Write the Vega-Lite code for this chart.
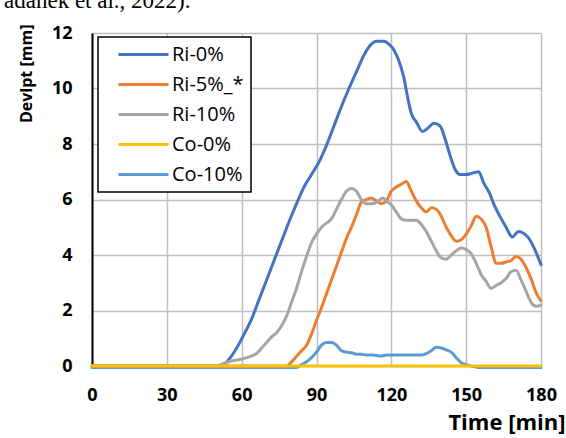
{
  "$schema": "https://vega.github.io/schema/vega-lite/v6.json",
  "width": 449,
  "height": 333,
  "autosize": "none",
  "padding": {"left": 92, "top": 33, "right": 25, "bottom": 72},
  "background": "white",
  "title": {"text": "adanek et al., 2022).", "font": "Liberation Serif", "fontSize": 23, "fontWeight": "normal", "color": "black", "anchor": "start", "frame": "bounds", "baseline": "alphabetic", "offset": 0, "dx": -14, "dy": 7},
  "config": {
    "view": {"stroke": null},
    "font": "Open Sans"
  },
  "data": {"values": [
    {"s":"Co-10%","t":0,"v":-0.05},{"s":"Co-10%","t":82,"v":-0.05},{"s":"Co-10%","t":84,"v":0.05},{"s":"Co-10%","t":86,"v":0.15},{"s":"Co-10%","t":88,"v":0.3},{"s":"Co-10%","t":90,"v":0.5},{"s":"Co-10%","t":92,"v":0.75},{"s":"Co-10%","t":94,"v":0.85},{"s":"Co-10%","t":96,"v":0.85},{"s":"Co-10%","t":98,"v":0.75},{"s":"Co-10%","t":100,"v":0.55},{"s":"Co-10%","t":102,"v":0.5},{"s":"Co-10%","t":104,"v":0.48},{"s":"Co-10%","t":106,"v":0.42},{"s":"Co-10%","t":108,"v":0.42},{"s":"Co-10%","t":110,"v":0.4},{"s":"Co-10%","t":112,"v":0.4},{"s":"Co-10%","t":114,"v":0.38},{"s":"Co-10%","t":116,"v":0.36},{"s":"Co-10%","t":118,"v":0.4},{"s":"Co-10%","t":124,"v":0.4},{"s":"Co-10%","t":132,"v":0.4},{"s":"Co-10%","t":134,"v":0.45},{"s":"Co-10%","t":136,"v":0.55},{"s":"Co-10%","t":138,"v":0.68},{"s":"Co-10%","t":140,"v":0.65},{"s":"Co-10%","t":142,"v":0.58},{"s":"Co-10%","t":144,"v":0.5},{"s":"Co-10%","t":146,"v":0.3},{"s":"Co-10%","t":148,"v":0.12},{"s":"Co-10%","t":150,"v":0.05},{"s":"Co-10%","t":152,"v":0.0},{"s":"Co-10%","t":155,"v":-0.05},{"s":"Co-10%","t":180,"v":-0.05},
    {"s":"Ri-0%","t":0,"v":0},{"s":"Ri-0%","t":52,"v":0},{"s":"Ri-0%","t":55,"v":0.25},{"s":"Ri-0%","t":58,"v":0.65},{"s":"Ri-0%","t":61,"v":1.15},{"s":"Ri-0%","t":64,"v":1.7},{"s":"Ri-0%","t":67,"v":2.4},{"s":"Ri-0%","t":70,"v":3.1},{"s":"Ri-0%","t":73,"v":3.8},{"s":"Ri-0%","t":76,"v":4.5},{"s":"Ri-0%","t":79,"v":5.2},{"s":"Ri-0%","t":82,"v":5.85},{"s":"Ri-0%","t":85,"v":6.45},{"s":"Ri-0%","t":88,"v":6.9},{"s":"Ri-0%","t":91,"v":7.35},{"s":"Ri-0%","t":94,"v":7.95},{"s":"Ri-0%","t":97,"v":8.65},{"s":"Ri-0%","t":100,"v":9.35},{"s":"Ri-0%","t":103,"v":10.0},{"s":"Ri-0%","t":106,"v":10.6},{"s":"Ri-0%","t":109,"v":11.2},{"s":"Ri-0%","t":112,"v":11.6},{"s":"Ri-0%","t":114,"v":11.7},{"s":"Ri-0%","t":117,"v":11.7},{"s":"Ri-0%","t":119,"v":11.6},{"s":"Ri-0%","t":121,"v":11.4},{"s":"Ri-0%","t":123,"v":11.0},{"s":"Ri-0%","t":125,"v":10.4},{"s":"Ri-0%","t":126.5,"v":9.7},{"s":"Ri-0%","t":128,"v":9.1},{"s":"Ri-0%","t":130,"v":8.8},{"s":"Ri-0%","t":132.5,"v":8.45},{"s":"Ri-0%","t":135,"v":8.6},{"s":"Ri-0%","t":137,"v":8.75},{"s":"Ri-0%","t":139.5,"v":8.65},{"s":"Ri-0%","t":141.5,"v":8.2},{"s":"Ri-0%","t":143.5,"v":7.6},{"s":"Ri-0%","t":145.5,"v":7.1},{"s":"Ri-0%","t":147.5,"v":6.9},{"s":"Ri-0%","t":150,"v":6.9},{"s":"Ri-0%","t":152.5,"v":6.95},{"s":"Ri-0%","t":155,"v":7.0},{"s":"Ri-0%","t":157,"v":6.6},{"s":"Ri-0%","t":159.5,"v":6.2},{"s":"Ri-0%","t":161,"v":5.85},{"s":"Ri-0%","t":163.5,"v":5.4},{"s":"Ri-0%","t":166,"v":5.0},{"s":"Ri-0%","t":168.5,"v":4.65},{"s":"Ri-0%","t":171,"v":4.85},{"s":"Ri-0%","t":173.5,"v":4.75},{"s":"Ri-0%","t":175.5,"v":4.55},{"s":"Ri-0%","t":177.5,"v":4.2},{"s":"Ri-0%","t":180,"v":3.65},
    {"s":"Ri-5%_*","t":0,"v":0},{"s":"Ri-5%_*","t":78,"v":0},{"s":"Ri-5%_*","t":80,"v":0.15},{"s":"Ri-5%_*","t":82,"v":0.35},{"s":"Ri-5%_*","t":84,"v":0.55},{"s":"Ri-5%_*","t":86,"v":0.75},{"s":"Ri-5%_*","t":88,"v":1.15},{"s":"Ri-5%_*","t":90,"v":1.65},{"s":"Ri-5%_*","t":92,"v":2.1},{"s":"Ri-5%_*","t":94,"v":2.6},{"s":"Ri-5%_*","t":96,"v":3.1},{"s":"Ri-5%_*","t":98,"v":3.6},{"s":"Ri-5%_*","t":100,"v":4.1},{"s":"Ri-5%_*","t":102,"v":4.6},{"s":"Ri-5%_*","t":104,"v":5.0},{"s":"Ri-5%_*","t":106,"v":5.45},{"s":"Ri-5%_*","t":108,"v":5.9},{"s":"Ri-5%_*","t":110,"v":6.0},{"s":"Ri-5%_*","t":112,"v":6.05},{"s":"Ri-5%_*","t":114,"v":5.95},{"s":"Ri-5%_*","t":116,"v":5.85},{"s":"Ri-5%_*","t":118,"v":5.95},{"s":"Ri-5%_*","t":120,"v":6.3},{"s":"Ri-5%_*","t":122,"v":6.45},{"s":"Ri-5%_*","t":124,"v":6.55},{"s":"Ri-5%_*","t":126,"v":6.65},{"s":"Ri-5%_*","t":128,"v":6.3},{"s":"Ri-5%_*","t":130,"v":5.95},{"s":"Ri-5%_*","t":132,"v":5.7},{"s":"Ri-5%_*","t":134,"v":5.55},{"s":"Ri-5%_*","t":136,"v":5.7},{"s":"Ri-5%_*","t":138,"v":5.65},{"s":"Ri-5%_*","t":140,"v":5.4},{"s":"Ri-5%_*","t":142,"v":5.0},{"s":"Ri-5%_*","t":144,"v":4.7},{"s":"Ri-5%_*","t":146,"v":4.5},{"s":"Ri-5%_*","t":148,"v":4.55},{"s":"Ri-5%_*","t":150,"v":4.75},{"s":"Ri-5%_*","t":152,"v":5.05},{"s":"Ri-5%_*","t":154,"v":5.4},{"s":"Ri-5%_*","t":156,"v":5.3},{"s":"Ri-5%_*","t":158,"v":5.0},{"s":"Ri-5%_*","t":160,"v":4.3},{"s":"Ri-5%_*","t":162,"v":3.7},{"s":"Ri-5%_*","t":164,"v":3.7},{"s":"Ri-5%_*","t":166,"v":3.75},{"s":"Ri-5%_*","t":168,"v":3.8},{"s":"Ri-5%_*","t":170,"v":3.95},{"s":"Ri-5%_*","t":172,"v":3.85},{"s":"Ri-5%_*","t":174,"v":3.55},{"s":"Ri-5%_*","t":176,"v":3.15},{"s":"Ri-5%_*","t":178,"v":2.65},{"s":"Ri-5%_*","t":180,"v":2.35},
    {"s":"Ri-10%","t":0,"v":0},{"s":"Ri-10%","t":50,"v":0},{"s":"Ri-10%","t":53,"v":0.1},{"s":"Ri-10%","t":56,"v":0.18},{"s":"Ri-10%","t":60,"v":0.25},{"s":"Ri-10%","t":63,"v":0.33},{"s":"Ri-10%","t":66,"v":0.45},{"s":"Ri-10%","t":68,"v":0.65},{"s":"Ri-10%","t":70,"v":0.85},{"s":"Ri-10%","t":72,"v":1.05},{"s":"Ri-10%","t":74,"v":1.2},{"s":"Ri-10%","t":76,"v":1.45},{"s":"Ri-10%","t":78,"v":1.8},{"s":"Ri-10%","t":80,"v":2.3},{"s":"Ri-10%","t":82,"v":2.8},{"s":"Ri-10%","t":84,"v":3.4},{"s":"Ri-10%","t":86,"v":3.95},{"s":"Ri-10%","t":88,"v":4.45},{"s":"Ri-10%","t":90,"v":4.75},{"s":"Ri-10%","t":92,"v":5.0},{"s":"Ri-10%","t":94,"v":5.15},{"s":"Ri-10%","t":96,"v":5.3},{"s":"Ri-10%","t":98,"v":5.65},{"s":"Ri-10%","t":100,"v":6.0},{"s":"Ri-10%","t":102,"v":6.3},{"s":"Ri-10%","t":104,"v":6.4},{"s":"Ri-10%","t":106,"v":6.3},{"s":"Ri-10%","t":108,"v":6.0},{"s":"Ri-10%","t":110,"v":5.85},{"s":"Ri-10%","t":112,"v":5.85},{"s":"Ri-10%","t":114,"v":5.9},{"s":"Ri-10%","t":116.5,"v":6.05},{"s":"Ri-10%","t":118,"v":5.95},{"s":"Ri-10%","t":120,"v":5.8},{"s":"Ri-10%","t":122,"v":5.55},{"s":"Ri-10%","t":124,"v":5.3},{"s":"Ri-10%","t":126,"v":5.25},{"s":"Ri-10%","t":128,"v":5.25},{"s":"Ri-10%","t":130,"v":5.25},{"s":"Ri-10%","t":132,"v":5.1},{"s":"Ri-10%","t":134,"v":4.85},{"s":"Ri-10%","t":136,"v":4.5},{"s":"Ri-10%","t":138,"v":4.15},{"s":"Ri-10%","t":140,"v":3.9},{"s":"Ri-10%","t":142,"v":3.85},{"s":"Ri-10%","t":144,"v":4.0},{"s":"Ri-10%","t":146,"v":4.15},{"s":"Ri-10%","t":148,"v":4.25},{"s":"Ri-10%","t":150,"v":4.2},{"s":"Ri-10%","t":152,"v":4.05},{"s":"Ri-10%","t":154,"v":3.7},{"s":"Ri-10%","t":156,"v":3.3},{"s":"Ri-10%","t":158,"v":3.05},{"s":"Ri-10%","t":160,"v":2.8},{"s":"Ri-10%","t":162,"v":2.9},{"s":"Ri-10%","t":164,"v":3.0},{"s":"Ri-10%","t":166,"v":3.15},{"s":"Ri-10%","t":168,"v":3.4},{"s":"Ri-10%","t":170,"v":3.45},{"s":"Ri-10%","t":172,"v":3.1},{"s":"Ri-10%","t":174,"v":2.7},{"s":"Ri-10%","t":176,"v":2.3},{"s":"Ri-10%","t":178,"v":2.15},{"s":"Ri-10%","t":180,"v":2.2},
    {"s":"Co-0%","t":0,"v":0},{"s":"Co-0%","t":60,"v":0},{"s":"Co-0%","t":120,"v":0},{"s":"Co-0%","t":180,"v":0}
  ]},
  "mark": {"type": "line", "strokeWidth": 3, "interpolate": "monotone", "strokeCap": "round", "clip": false},
  "encoding": {
    "x": {"field": "t", "type": "quantitative",
      "scale": {"domain": [0, 180], "nice": false},
      "axis": {"values": [0, 30, 60, 90, 120, 150, 180], "title": "Time [min]",
        "grid": true, "gridColor": "#bfbfbf", "gridWidth": 1.5, "domain": false, "ticks": false,
        "labelFont": "Open Sans", "labelFontWeight": "bold", "labelFontSize": 18, "labelColor": "black", "labelPadding": 20,
        "labelFlush": false, "labelOverlap": false,
        "titleFont": "Open Sans", "titleFontWeight": "bold", "titleFontSize": 22, "titleColor": "black",
        "titleX": 473, "titleY": 56, "titleAlign": "right", "titleBaseline": "middle"}},
    "y": {"field": "v", "type": "quantitative",
      "scale": {"domain": [0, 12], "nice": false},
      "axis": {"values": [0, 2, 4, 6, 8, 10, 12], "title": "Devlpt [mm]",
        "grid": true, "gridColor": "#bfbfbf", "gridWidth": 1.5, "domain": true, "domainColor": "black", "domainWidth": 2, "ticks": false,
        "labelFont": "Open Sans", "labelFontWeight": "bold", "labelFontSize": 18, "labelColor": "black", "labelPadding": 20,
        "labelFlush": false, "labelOverlap": false,
        "titleFont": "Open Sans", "titleFontWeight": "bold", "titleFontSize": 16, "titleColor": "black",
        "titleAngle": 270, "titleX": -66, "titleY": -9, "titleAlign": "right", "titleBaseline": "middle"}},
    "color": {"field": "s", "type": "nominal",
      "scale": {"domain": ["Ri-0%", "Ri-5%_*", "Ri-10%", "Co-0%", "Co-10%"], "range": ["#4472C4", "#ED7D31", "#A5A5A5", "#FFC000", "#5B9BD5"]},
      "legend": {"title": null, "orient": "none", "legendX": 6, "legendY": 4,
        "fillColor": "white", "strokeColor": "black", "padding": 7,
        "symbolType": "M-2.78,0H2.78", "symbolSize": 324, "symbolStrokeWidth": 3, "symbolOffset": 28,
        "labelOffset": 18, "labelFont": "Open Sans", "labelFontSize": 20, "labelColor": "black", "rowPadding": 9, "labelLimit": 200,
        "encode": {"legend": {"update": {"strokeWidth": {"value": 1.5}}}}}}
  }
}
